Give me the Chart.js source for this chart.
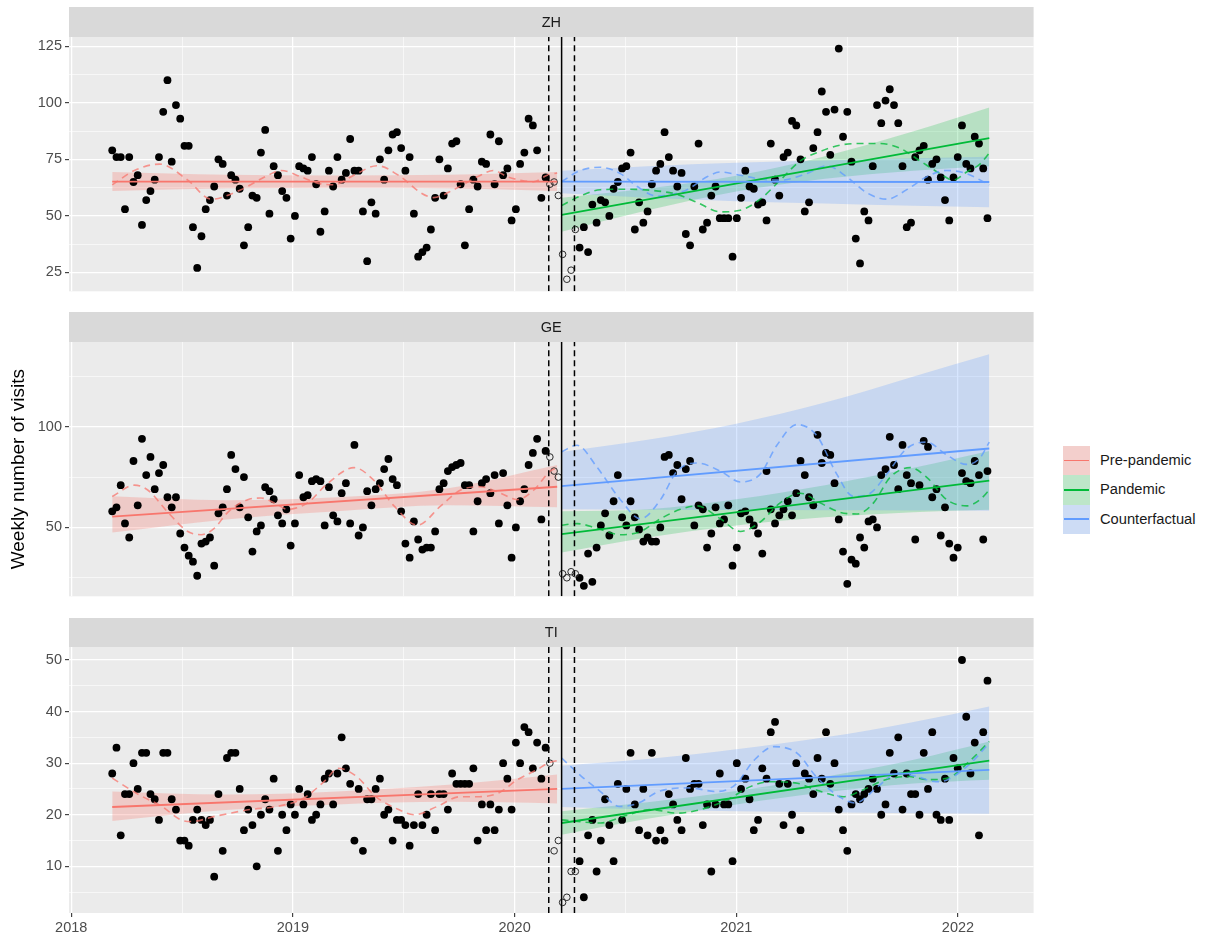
<!DOCTYPE html>
<html>
<head>
<meta charset="utf-8">
<script src="https://cdn.jsdelivr.net/npm/chart.js@4.4.1/dist/chart.umd.min.js"></script>
<style>
  html, body { margin: 0; padding: 0; background: #fff; }
  #wrap { position: relative; width: 1205px; height: 939px; overflow: hidden;
          font-family: "Liberation Sans", Arial, sans-serif; }
  canvas { position: absolute; left: 0; }
  #legend { position: absolute; left: 1063px; top: 446px; }
  .row { position: relative; height: 29.3px; width: 140px; }
  .key { position: absolute; left: 0; top: 0; width: 27px; height: 29.3px; background: #F2F2F2; }
  .key .fill { position: absolute; left: 0; top: 0; right: 0; bottom: 0; }
  .key .ln { position: absolute; left: 1px; right: 1px; top: 13.7px; height: 1.8px; }
  .lab { position: absolute; left: 37px; top: 0; line-height: 29.3px; font-size: 14.7px;
         color: #1A1A1A; white-space: nowrap; }
</style>
</head>
<body>
<div id="wrap">
  <canvas id="cZH" width="1040" height="296" style="top:7px;width:1040px;height:296px"></canvas>
  <canvas id="cGE" width="1040" height="296" style="top:312px;width:1040px;height:296px"></canvas>
  <canvas id="cTI" width="1040" height="321" style="top:618px;width:1040px;height:321px"></canvas>
  <div id="legend"></div>
</div>
<script>
// ---------------------------------------------------------------
// Weekly visits by canton, March 2018 - February 2022
// x values are decimal years; one observation per week
// ---------------------------------------------------------------
const FIRST_WEEK = 2018.185;          // decimal year of the first weekly count
const WEEK = 7 / 365.25;
const LOCKDOWN = 2020.212;            // start of the pandemic period
const TRANSITION = [2020.154, 2020.270];

const YEAR_TICKS = [2018, 2019, 2020, 2021, 2022];
const YEAR_MINOR = [2018.5, 2019.5, 2020.5, 2021.5];

const SERIES_NAMES = ['Pre-pandemic', 'Pandemic', 'Counterfactual'];

// ---- ZH ----
const zhPre = [79,76,76,53,76,65,68,46,57,61,66,76,96,110,74,99,93,81,81,45,
  27,41,53,57,63,75,73,59,68,66,62,37,45,59,58,78,88,51,72,68,
  61,58,40,50,72,71,70,76,64,43,52,70,63,76,66,69,84,70,70,52,
  30,56,51,75,66,79,86,87,80,70,76,51,32,34,36,44,58,75,59,71,
  82,83,64,37,53,66,63,74,73,86,64,83,68,71,48,53,73,78,93,90,
  79,58,67];
const zhTransition = [64,65,59,33,22,26,44];
const zhPost = [36,45,34,55,47,57,56,50,62,65,71,72,78,44,56,47,52,64,70,73,
  87,76,70,63,69,42,37,63,82,44,47,59,63,49,49,49,32,49,58,70,
  63,62,55,56,48,82,66,59,76,78,92,90,75,52,56,80,87,105,96,77,
  97,124,85,96,74,40,29,52,48,72,99,91,101,106,99,91,72,45,47,76,
  79,81,66,73,75,67,57,48,67,76,90,73,71,85,82,71,49];

// ---- GE ----
const gePre = [58,60,71,52,45,83,61,94,76,85,69,77,81,65,60,65,47,40,36,33,
  26,42,43,45,31,57,60,69,86,79,60,75,55,38,48,51,70,68,64,56,
  52,59,41,52,76,65,66,73,74,73,51,70,56,53,67,72,52,91,46,50,
  68,61,69,72,79,84,74,71,58,42,35,53,44,39,40,40,48,69,72,78,
  80,81,82,71,71,48,63,72,74,67,76,52,77,61,35,50,63,69,81,87,
  94,54,88];
const geTransition = [85,78,75,27,25,28,27];
const gePost = [25,21,37,23,40,51,57,46,63,76,55,51,63,55,49,43,45,43,43,50,
  85,86,77,81,64,79,83,51,61,59,40,47,60,52,54,61,31,40,57,58,
  54,51,47,37,78,59,52,56,59,63,56,67,83,76,65,61,96,82,87,86,
  72,54,38,22,34,32,45,40,53,54,50,76,79,95,81,69,91,76,72,44,
  71,93,90,65,69,46,60,42,35,40,77,73,72,83,76,44,78];

// ---- TI ----
const tiPre = [28,33,16,24,24,30,25,32,32,24,23,19,32,32,23,21,15,15,14,19,
  21,19,18,19,8,24,13,31,32,32,25,17,21,18,10,20,23,21,27,13,
  20,17,22,20,25,22,24,19,20,22,27,28,22,28,35,29,26,15,25,13,
  23,23,25,27,20,21,15,19,19,18,14,18,24,18,20,24,17,24,24,21,
  28,26,26,26,26,29,15,22,17,22,17,21,30,27,21,34,30,37,36,29,
  34,27,33];
const tiTransition = [30,13,15,3,4,9,9];
const tiPost = [11,4,16,19,9,15,23,18,11,26,19,25,32,22,17,25,16,32,15,17,
  15,24,22,19,17,31,25,26,26,18,22,9,22,28,22,22,11,30,25,27,
  23,17,19,29,27,36,38,26,18,26,20,30,17,28,27,24,31,27,36,26,
  30,21,17,13,22,24,23,24,25,27,25,20,22,32,28,35,21,28,24,24,
  20,32,25,36,20,19,27,19,31,29,50,39,28,34,16,36,46];

// ---- fitted trends (start / end of each period) ----
const PRE_SPAN = [2018.185, 2020.192];
const POST_SPAN = [2020.212, 2022.141];
const zhPreTrend = [65.2, 65.2];
const zhPandemicTrend = [50.5, 84.4];
const zhCounterTrend = [65.2, 65.0];
const gePreTrend = [55.4, 70.2];
const gePandemicTrend = [46.7, 73.3];
const geCounterTrend = [70.5, 89.2];
const tiPreTrend = [21.5, 25.0];
const tiPandemicTrend = [18.4, 30.5];
const tiCounterTrend = [25.0, 28.7];

// ---- confidence bands (evaluated at knot years) ----
const PRE_KNOTS = [2018.185, 2018.7, 2019.2, 2019.7, 2020.192];
const POST_KNOTS = [2020.212, 2020.6, 2021.0, 2021.4, 2021.8, 2022.141];

const zhPreLow = [61.0, 62.2, 62.5, 62.2, 61.0];
const zhPreHigh = [69.4, 68.2, 67.9, 68.2, 69.4];
const zhPandemicLow = [43.0, 52.5, 60.8, 66.4, 70.0, 72.0];
const zhPandemicHigh = [58.0, 62.1, 67.8, 76.4, 87.4, 97.9];
const zhCounterLow = [60.0, 58.0, 56.5, 55.5, 54.5, 53.8];
const zhCounterHigh = [70.0, 72.0, 73.5, 74.5, 75.5, 76.2];

const gePreLow = [47.5, 54.0, 58.0, 61.0, 60.0];
const gePreHigh = [65.5, 63.5, 65.0, 69.5, 81.0];
const gePandemicLow = [37.5, 45.0, 51.0, 55.0, 57.6, 58.8];
const gePandemicHigh = [58.0, 59.0, 64.0, 71.0, 79.6, 88.0];
const geCounterLow = [59.0, 58.8, 58.6, 58.5, 58.4, 58.3];
const geCounterHigh = [87.5, 93.5, 101.5, 112.0, 125.0, 136.0];

const tiPreLow = [18.8, 20.9, 22.0, 22.5, 22.2];
const tiPreHigh = [24.5, 23.9, 24.5, 25.8, 27.8];
const tiPandemicLow = [16.1, 19.2, 22.0, 24.35, 26.06, 26.8];
const tiPandemicHigh = [20.7, 22.4, 24.6, 27.35, 30.66, 34.2];
const tiCounterLow = [21.5, 21.0, 20.7, 20.5, 20.3, 20.2];
const tiCounterHigh = [29.5, 30.8, 32.7, 35.0, 38.0, 41.0];

// ---- seasonal model curves: [year, value] ----
const zhPreSeason = [[2018.185,63.7],[2018.285,70.1],[2018.398,72.9],[2018.526,65.8],[2018.631,57.4],
  [2018.766,61.6],[2018.886,67.9],[2018.946,70.1],[2019.036,67.3],[2019.111,64.5],[2019.185,63.8],
  [2019.275,68.0],[2019.38,72.2],[2019.486,67.3],[2019.577,60.2],[2019.635,58.1],[2019.725,61.6],
  [2019.832,67.3],[2019.905,70.1],[2019.967,67.3],[2020.027,65.8],[2020.086,65.1],[2020.147,68.0],[2020.192,69.0]];
const zhCounterSeason = [[2020.212,65.2],[2020.297,70.1],[2020.387,71.5],[2020.477,68.7],[2020.553,63.0],
  [2020.64,58.8],[2020.70,59.3],[2020.778,61.6],[2020.868,67.3],[2020.928,69.4],[2021.018,68.0],
  [2021.108,66.3],[2021.198,65.8],[2021.318,68.7],[2021.408,72.2],[2021.498,67.3],[2021.589,60.2],
  [2021.679,57.4],[2021.769,61.6],[2021.859,67.3],[2021.949,70.1],[2022.039,68.7],[2022.141,63.7]];
const zhPandemicSeason = [[2020.212,54.6],[2020.297,58.8],[2020.387,61.6],[2020.507,61.8],[2020.628,61.2],
  [2020.733,59.5],[2020.823,56.0],[2020.928,51.8],[2021.018,52.5],[2021.108,57.4],[2021.198,65.8],
  [2021.288,74.3],[2021.378,78.5],[2021.468,81.3],[2021.559,82.0],[2021.649,82.0],[2021.739,79.9],
  [2021.829,74.3],[2021.919,68.7],[2021.979,65.8],[2022.039,69.4],[2022.099,72.9],[2022.141,77.8]];

const gePreSeason = [[2018.185,65.4],[2018.285,71.0],[2018.345,68.6],[2018.436,57.5],[2018.526,48.0],
  [2018.586,46.4],[2018.645,49.5],[2018.706,57.5],[2018.796,63.8],[2018.856,64.6],[2018.916,62.2],
  [2018.976,59.0],[2019.066,62.2],[2019.156,71.8],[2019.276,79.7],[2019.366,73.3],[2019.456,60.7],
  [2019.562,51.1],[2019.667,60.7],[2019.757,68.6],[2019.847,70.2],[2019.937,67.0],[2020.012,63.8],
  [2020.087,68.6],[2020.162,78.1],[2020.192,79.7]];
const geCounterSeason = [[2020.212,87.6],[2020.282,90.8],[2020.373,79.7],[2020.477,63.8],[2020.568,54.3],
  [2020.658,63.8],[2020.733,78.0],[2020.823,82.0],[2020.928,78.0],[2021.018,72.6],[2021.108,76.5],
  [2021.183,90.8],[2021.273,101.1],[2021.363,95.6],[2021.453,76.5],[2021.528,65.4],[2021.604,67.0],
  [2021.679,76.5],[2021.769,89.2],[2021.859,92.4],[2021.949,86.0],[2022.039,81.3],[2022.099,84.5],[2022.141,92.4]];
const gePandemicSeason = [[2020.212,51.1],[2020.282,51.9],[2020.373,49.5],[2020.477,46.4],[2020.568,48.0],
  [2020.658,54.3],[2020.748,59.0],[2020.823,60.7],[2020.928,54.3],[2021.018,48.0],[2021.108,52.7],
  [2021.198,62.2],[2021.288,67.0],[2021.378,62.2],[2021.468,57.5],[2021.544,56.7],[2021.619,62.2],
  [2021.694,74.9],[2021.784,79.7],[2021.859,74.9],[2021.949,63.8],[2022.039,60.7],[2022.099,63.8],[2022.141,68.6]];

const tiPreSeason = [[2018.185,27.1],[2018.30,24.0],[2018.409,21.6],[2018.495,19.0],[2018.545,18.7],
  [2018.649,19.7],[2018.806,21.0],[2018.927,21.6],[2019.047,23.2],[2019.150,26.8],[2019.203,29.0],
  [2019.288,27.4],[2019.374,23.5],[2019.477,21.0],[2019.547,20.0],[2019.651,21.6],[2019.754,23.5],
  [2019.841,23.5],[2019.927,24.2],[2020.013,26.8],[2020.099,28.7],[2020.151,30.0],[2020.192,30.5]];
const tiCounterSeason = [[2020.212,31.0],[2020.30,27.5],[2020.387,24.5],[2020.473,21.6],[2020.561,22.3],
  [2020.649,24.5],[2020.788,25.2],[2020.910,24.5],[2020.995,25.8],[2021.081,30.6],[2021.170,33.2],
  [2021.275,31.9],[2021.360,27.4],[2021.464,23.5],[2021.536,22.3],[2021.640,25.5],[2021.725,28.1],
  [2021.814,27.4],[2021.901,26.4],[2021.953,26.8],[2022.057,30.0],[2022.141,33.9]];
const tiPandemicSeason = [[2020.212,19.0],[2020.387,18.4],[2020.491,19.7],[2020.613,21.0],[2020.734,20.3],
  [2020.838,21.0],[2020.959,22.9],[2021.066,25.5],[2021.153,26.4],[2021.275,26.1],[2021.360,24.8],
  [2021.482,23.5],[2021.570,24.8],[2021.674,26.8],[2021.779,27.4],[2021.865,26.8],[2021.953,27.1],
  [2022.057,30.6],[2022.141,34.2]];

// ---- y axis breaks ----
const zhYTicks = [25, 50, 75, 100, 125];
const zhYMinor = [37.5, 62.5, 87.5, 112.5];
const geYTicks = [50, 100];
const geYMinor = [25, 75, 125];
const tiYTicks = [10, 20, 30, 40, 50];
const tiYMinor = [5, 15, 25, 35, 45];

// ---------------------------------------------------------------
// drawing
// ---------------------------------------------------------------
const FONT = '"Liberation Sans", Arial, sans-serif';
const COL = { pre: '#F8766D', pan: '#00BA38', cf: '#619CFF' };
const BAND = { pre: 'rgba(248,118,109,0.28)', pan: 'rgba(0,186,56,0.22)', cf: 'rgba(97,156,255,0.25)' };
const DASHCOL = { pre: 'rgba(248,118,109,0.75)', pan: 'rgba(0,186,56,0.78)', cf: 'rgba(97,156,255,0.78)' };
const X_MIN = 2017.99, X_MAX = 2022.341;
const AXIS_FONT = { size: 14.5, family: FONT };

const weekX = (i) => FIRST_WEEK + i * WEEK;

// panel background + strip header
const panelPlugin = {
  id: 'strip',
  beforeDraw(chart, args, opts) {
    const { ctx, chartArea: a } = chart;
    ctx.save();
    ctx.fillStyle = '#EBEBEB';
    ctx.fillRect(a.left, a.top, a.right - a.left, a.bottom - a.top);
    ctx.fillStyle = '#D9D9D9';
    ctx.fillRect(a.left, 0, a.right - a.left, a.top);
    ctx.fillStyle = '#1A1A1A';
    ctx.font = '14.5px ' + FONT;
    ctx.textAlign = 'center';
    ctx.textBaseline = 'middle';
    ctx.fillText(opts.label, (a.left + a.right) / 2, a.top / 2 + 0.5);
    ctx.restore();
  }
};

function tickList(major, minor) {
  return [...major, ...minor].sort((a, b) => a - b).map(v => ({ value: v }));
}

function makePanel(p) {
  const ds = [];
  const add = (d) => { ds.push(d); return ds.length - 1; };

  function band(knots, low, high, fillColor) {
    const lo = add({ type: 'line', data: knots.map((x, i) => ({ x, y: low[i] })),
      borderWidth: 0, pointRadius: 0, cubicInterpolationMode: 'monotone', fill: false, order: 6 });
    add({ type: 'line', data: knots.map((x, i) => ({ x, y: high[i] })),
      borderWidth: 0, pointRadius: 0, cubicInterpolationMode: 'monotone',
      fill: { target: lo }, backgroundColor: fillColor, order: 6 });
  }
  band(PRE_KNOTS, p.preLow, p.preHigh, BAND.pre);
  band(POST_KNOTS, p.cfLow, p.cfHigh, BAND.cf);
  band(POST_KNOTS, p.panLow, p.panHigh, BAND.pan);

  // weekly counts
  add({ type: 'scatter', data: p.pre.map((v, i) => ({ x: weekX(i), y: v })),
    pointRadius: 3.9, backgroundColor: '#000', borderWidth: 0, order: 3 });
  const off1 = p.pre.length;
  add({ type: 'scatter', data: p.transition.map((v, i) => ({ x: weekX(off1 + i), y: v })),
    pointRadius: 3.3, backgroundColor: 'rgba(0,0,0,0)', borderColor: '#2b2b2b', borderWidth: 1, order: 3 });
  const off2 = off1 + p.transition.length;
  add({ type: 'scatter', data: p.post.map((v, i) => ({ x: weekX(off2 + i), y: v })),
    pointRadius: 3.9, backgroundColor: '#000', borderWidth: 0, order: 3 });

  // seasonal curves
  const seasonal = (pairs, color) => add({ type: 'line', data: pairs.map(([x, y]) => ({ x, y })),
    borderColor: color, borderWidth: 1.6, borderDash: [7, 5], pointRadius: 0,
    cubicInterpolationMode: 'monotone', fill: false, order: 2 });
  seasonal(p.preSeason, DASHCOL.pre);
  seasonal(p.cfSeason, DASHCOL.cf);
  seasonal(p.panSeason, DASHCOL.pan);

  // linear trends
  const trend = (span, vals, color) => add({ type: 'line',
    data: [{ x: span[0], y: vals[0] }, { x: span[1], y: vals[1] }],
    borderColor: color, borderWidth: 1.8, pointRadius: 0, fill: false, order: 1 });
  trend(PRE_SPAN, p.preTrend, COL.pre);
  trend(POST_SPAN, p.cfTrend, COL.cf);
  trend(POST_SPAN, p.panTrend, COL.pan);

  // intervention markers
  const vline = (x, dash) => add({ type: 'line', data: [{ x, y: p.yMin }, { x, y: p.yMax }],
    borderColor: '#000', borderWidth: 1.5, borderDash: dash, pointRadius: 0, fill: false, order: 0 });
  vline(TRANSITION[0], [6, 4]);
  vline(TRANSITION[1], [6, 4]);
  vline(LOCKDOWN, []);

  const isMajorX = v => YEAR_TICKS.includes(v);
  const isMajorY = v => p.yMajor.includes(v);

  return new Chart(document.getElementById(p.canvas), {
    type: 'scatter',
    data: { datasets: ds },
    plugins: [panelPlugin],
    options: {
      responsive: false, animation: false, events: [], devicePixelRatio: 1,
      layout: { padding: { top: p.stripH, right: 6.4, left: 0, bottom: 0 } },
      plugins: { legend: { display: false }, tooltip: { enabled: false }, strip: { label: p.name } },
      scales: {
        x: {
          type: 'linear', min: X_MIN, max: X_MAX, bounds: 'data',
          afterBuildTicks: s => { s.ticks = tickList(YEAR_TICKS, YEAR_MINOR); },
          afterFit: s => { s.height = p.xAxisH; },
          border: { display: false },
          grid: {
            color: '#FFFFFF',
            lineWidth: c => (c.tick && isMajorX(c.tick.value)) ? 1.25 : 0.6,
            drawTicks: p.showX, tickLength: 4, tickWidth: 1.1,
            tickColor: c => (c.tick && isMajorX(c.tick.value)) ? '#333333' : 'rgba(0,0,0,0)'
          },
          ticks: {
            display: p.showX, autoSkip: false, maxRotation: 0, padding: 2,
            color: '#4D4D4D', font: AXIS_FONT,
            callback: v => isMajorX(v) ? String(v) : ''
          }
        },
        y: {
          type: 'linear', min: p.yMin, max: p.yMax, bounds: 'data',
          afterBuildTicks: s => { s.ticks = tickList(p.yMajor, p.yMinor); },
          afterFit: s => { s.width = 69; },
          border: { display: false },
          grid: {
            color: '#FFFFFF',
            lineWidth: c => (c.tick && isMajorY(c.tick.value)) ? 1.25 : 0.6,
            drawTicks: true, tickLength: 4, tickWidth: 1.1,
            tickColor: c => (c.tick && isMajorY(c.tick.value)) ? '#333333' : 'rgba(0,0,0,0)'
          },
          ticks: {
            autoSkip: false, padding: 3, color: '#4D4D4D', font: AXIS_FONT,
            callback: v => isMajorY(v) ? String(v) : ''
          },
          title: p.title
            ? { display: true, text: p.title, color: '#000', font: { size: 19, family: FONT },
                padding: { top: 7, bottom: 0 } }
            : { display: false }
        }
      }
    }
  });
}

makePanel({
  canvas: 'cZH', name: 'ZH', stripH: 30, xAxisH: 0, showX: false,
  yMin: 16.67, yMax: 129.1, yMajor: zhYTicks, yMinor: zhYMinor,
  pre: zhPre, transition: zhTransition, post: zhPost,
  preTrend: zhPreTrend, panTrend: zhPandemicTrend, cfTrend: zhCounterTrend,
  preLow: zhPreLow, preHigh: zhPreHigh, panLow: zhPandemicLow, panHigh: zhPandemicHigh,
  cfLow: zhCounterLow, cfHigh: zhCounterHigh,
  preSeason: zhPreSeason, panSeason: zhPandemicSeason, cfSeason: zhCounterSeason
});
makePanel({
  canvas: 'cGE', name: 'GE', stripH: 30, xAxisH: 0, showX: false, title: 'Weekly number of visits',
  yMin: 15.8, yMax: 142.1, yMajor: geYTicks, yMinor: geYMinor,
  pre: gePre, transition: geTransition, post: gePost,
  preTrend: gePreTrend, panTrend: gePandemicTrend, cfTrend: geCounterTrend,
  preLow: gePreLow, preHigh: gePreHigh, panLow: gePandemicLow, panHigh: gePandemicHigh,
  cfLow: geCounterLow, cfHigh: geCounterHigh,
  preSeason: gePreSeason, panSeason: gePandemicSeason, cfSeason: geCounterSeason
});
makePanel({
  canvas: 'cTI', name: 'TI', stripH: 29, xAxisH: 26, showX: true,
  yMin: 0.95, yMax: 52.52, yMajor: tiYTicks, yMinor: tiYMinor,
  pre: tiPre, transition: tiTransition, post: tiPost,
  preTrend: tiPreTrend, panTrend: tiPandemicTrend, cfTrend: tiCounterTrend,
  preLow: tiPreLow, preHigh: tiPreHigh, panLow: tiPandemicLow, panHigh: tiPandemicHigh,
  cfLow: tiCounterLow, cfHigh: tiCounterHigh,
  preSeason: tiPreSeason, panSeason: tiPandemicSeason, cfSeason: tiCounterSeason
});

// legend
const legendKeys = [
  { label: SERIES_NAMES[0], band: BAND.pre, line: COL.pre },
  { label: SERIES_NAMES[1], band: BAND.pan, line: COL.pan },
  { label: SERIES_NAMES[2], band: BAND.cf, line: COL.cf }
];
const legend = document.getElementById('legend');
legendKeys.forEach(k => {
  const row = document.createElement('div');
  row.className = 'row';
  row.innerHTML = '<div class="key"><div class="fill" style="background:' + k.band + '"></div>' +
    '<div class="ln" style="background:' + k.line + '"></div></div>' +
    '<div class="lab">' + k.label + '</div>';
  legend.appendChild(row);
});
</script>
</body>
</html>
